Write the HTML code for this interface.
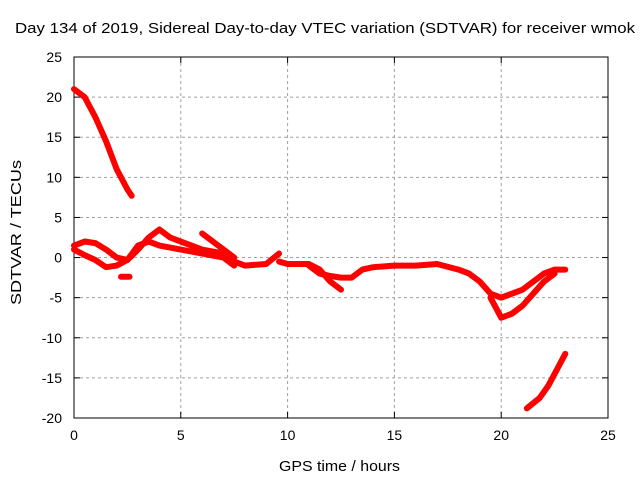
<!DOCTYPE html>
<html><head><meta charset="utf-8"><style>
body{margin:0;background:#fff}
svg{display:block;font-family:"Liberation Sans",sans-serif}
</style></head><body>
<svg id="c" width="640" height="480"></svg>
<script>
const xTicks=[0,5,10,15,20,25];
const yTicks=[25,20,15,10,5,0,-5,-10,-15,-20];
const trackA=[[0,21],[0.5,20],[1,17.5],[1.5,14.5],[2,11],[2.5,8.5],[2.7,7.7]];
const trackB=[[0,1.5],[0.5,2],[1,1.8],[1.5,1],[2,0],[2.5,-0.3],[3,1],[3.5,2.5],[4,3.5],[4.5,2.5],[5,2],[5.5,1.5],[6,1],[7,0.5],[7.5,-0.5],[8,-1],[9,-0.8],[9.6,0.5]];
const trackC=[[0,1],[0.5,0.3],[1,-0.3],[1.5,-1.2],[2,-1],[2.5,-0.3],[3,1.5],[3.5,2],[4,1.5],[5,1],[6,0.5],[7,0],[7.5,-1]];
const trackD=[[6,3],[6.5,2],[7,1],[7.5,0]];
const trackE=[[2.2,-2.4],[2.6,-2.4]];
const trackF=[[9.6,-0.5],[10,-0.8],[11,-0.8],[11.5,-1.5],[12,-3],[12.5,-4]];
const trackG=[[11,-1],[11.5,-2],[12,-2.3],[12.5,-2.5],[13,-2.5],[13.5,-1.5],[14,-1.2],[15,-1],[16,-1],[17,-0.8],[18,-1.5],[18.5,-2],[19,-3],[19.5,-4.5],[20,-5],[20.5,-4.5],[21,-4],[21.5,-3],[22,-2],[22.5,-1.5],[23,-1.5]];
const trackH=[[19.5,-5],[19.8,-6.5],[20,-7.5],[20.5,-7],[21,-6],[21.5,-4.5],[22,-3],[22.5,-2]];
const trackI=[[21.2,-18.8],[21.8,-17.5],[22.2,-16],[22.6,-14],[23,-12]];
const tracks=[trackA,trackB,trackC,trackD,trackE,trackF,trackG,trackH,trackI];
const NS="http://www.w3.org/2000/svg",svg=document.getElementById('c');
const X0=74,X1=608,Y0=418,Y1=57;
const sx=v=>X0+(v-0)/(25-0)*(X1-X0);
const sy=v=>Y0-(v+20)/(45)*(Y0-Y1);
function mk(t,a,p){const e=document.createElementNS(NS,t);for(const k in a)e.setAttribute(k,a[k]);(p||svg).appendChild(e);return e;}
let g=mk('g',{});


xTicks.forEach(t=>{if(t>0&&t<25)mk('line',{x1:sx(t),x2:sx(t),y1:Y1,y2:Y0,stroke:'#a0a0a0','stroke-dasharray':'3,3'},g);});
yTicks.forEach(t=>{if(t>-20&&t<25)mk('line',{x1:X0,x2:X1,y1:sy(t),y2:sy(t),stroke:'#a0a0a0','stroke-dasharray':'3,3'},g);});
let ax=mk('g',{});


mk('rect',{x:X0,y:Y1,width:X1-X0,height:Y0-Y1,fill:'none',stroke:'#000'},ax);
xTicks.forEach(t=>{mk('line',{x1:sx(t),x2:sx(t),y1:Y0,y2:Y0-6,stroke:'#000'},ax);mk('line',{x1:sx(t),x2:sx(t),y1:Y1,y2:Y1+6,stroke:'#000'},ax);
 const l=mk('text',{x:sx(t),y:Y0+22,'text-anchor':'middle','font-size':14},ax);l.textContent=t;});
yTicks.forEach(t=>{mk('line',{x1:X0,x2:X0+6,y1:sy(t),y2:sy(t),stroke:'#000'},ax);mk('line',{x1:X1,x2:X1-6,y1:sy(t),y2:sy(t),stroke:'#000'},ax);
 const l=mk('text',{x:X0-12,y:sy(t)+5,'text-anchor':'end','font-size':14},ax);l.textContent=t;});
let s=mk('g',{});


tracks.forEach(tr=>{const p=mk('polyline',{points:tr.map(d=>sx(d[0])+','+sy(d[1])).join(' '),fill:'none',stroke:'#f00','stroke-width':6,'stroke-linejoin':'round','stroke-linecap':'round'},s);
 
 });
let t=mk('text',{x:15,y:33,'font-size':15,textLength:620,lengthAdjust:'spacingAndGlyphs'});t.textContent='Day 134 of 2019, Sidereal Day-to-day VTEC variation (SDTVAR) for receiver wmok';


t=mk('text',{x:279,y:471,'font-size':15,textLength:121,lengthAdjust:'spacingAndGlyphs'});t.textContent='GPS time / hours';


t=mk('text',{x:-305,y:21,'font-size':15,textLength:145,lengthAdjust:'spacingAndGlyphs',transform:'rotate(-90)'});t.textContent='SDTVAR / TECUs';


</script>
</body></html>
